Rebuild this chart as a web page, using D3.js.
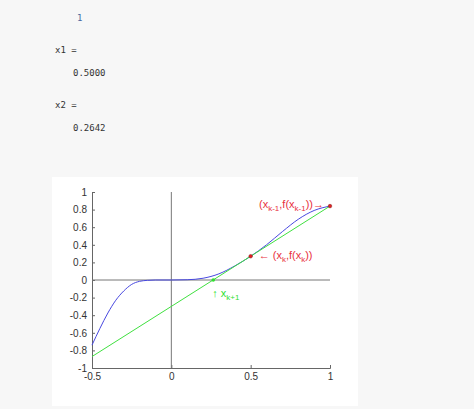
<!DOCTYPE html>
<html><head><meta charset="utf-8">
<script src="https://cdn.jsdelivr.net/npm/d3@7"></script>
<style>
body{margin:0;background:#f7f7f7;width:474px;height:409px;overflow:hidden;font-family:"DejaVu Sans Mono",monospace;}
.out{position:absolute;font-size:9px;color:#333;}
</style></head><body>
<div class="out" style="left:77px;top:13px;color:#4a6aa0">1</div>
<div class="out" style="left:55px;top:45px">x1 =</div>
<div class="out" style="left:73px;top:68px">0.5000</div>
<div class="out" style="left:55px;top:100px">x2 =</div>
<div class="out" style="left:73px;top:123px">0.2642</div>
<div id="fig" style="position:absolute;left:52px;top:177px;"></div>
<script>
var curveX = [-0.5,-0.45,-0.4,-0.35,-0.3,-0.25,-0.2,-0.15,-0.1,0,0.1,0.2,0.3,0.4,0.5,0.6,0.7,0.8,0.9,1];
var curveY = [-0.74,-0.55,-0.375,-0.23,-0.125,-0.05,-0.015,-0.004,0,0,0.003,0.02,0.07,0.16,0.27,0.40,0.55,0.69,0.79,0.84];
var secantX = [-0.5, 1];
var secantY = [-0.87, 0.84];
var pointsX = [1, 0.5];
var pointsY = [0.84, 0.27];
var rootX = 0.2642;
var xTicks = [-0.5, 0, 0.5, 1];
var yTicks = [-1,-0.8,-0.6,-0.4,-0.2,0,0.2,0.4,0.6,0.8,1];

var W = 306, H = 229;
var svg = d3.select("#fig").append("svg").attr("width", W).attr("height", H)
  .style("background", "#fff").style("font-family", "Liberation Sans, Arial").style("font-size", "8px");
var x = d3.scaleLinear().domain([-0.5, 1]).range([40, 278]);
var y = d3.scaleLinear().domain([-1, 1]).range([191, 15]);

svg.append("g").attr("transform", "translate(0,191)")
  .call(d3.axisBottom(x).tickValues(xTicks).tickSize(-3).tickPadding(5).tickFormat(d => String(d)))
  .call(g => g.select(".domain").attr("stroke", "#666"));
svg.append("g").attr("transform", "translate(40,0)")
  .call(d3.axisLeft(y).tickValues(yTicks).tickSize(-3).tickPadding(5).tickFormat(d => String(d)))
  .call(g => g.select(".domain").attr("stroke", "#666"));
svg.selectAll(".tick line").attr("stroke", "#666");
svg.selectAll(".tick text").attr("fill", "#333");

svg.append("line").attr("x1", x(-0.5)).attr("x2", x(1)).attr("y1", y(0)).attr("y2", y(0)).attr("stroke", "#777");
svg.append("line").attr("x1", x(0)).attr("x2", x(0)).attr("y1", y(-1)).attr("y2", y(1)).attr("stroke", "#777");

svg.append("path").datum(curveX.map((d, i) => [d, curveY[i]]))
  .attr("d", d3.line().x(d => x(d[0])).y(d => y(d[1])).curve(d3.curveMonotoneX))
  .attr("fill", "none").attr("stroke", "#4848e0").attr("stroke-width", 1);
svg.append("path").datum(secantX.map((d, i) => [d, secantY[i]]))
  .attr("d", d3.line().x(d => x(d[0])).y(d => y(d[1])))
  .attr("fill", "none").attr("stroke", "#40e040").attr("stroke-width", 1);

svg.selectAll(".pt").data(pointsX).enter().append("circle")
  .attr("cx", d => x(d)).attr("cy", (d, i) => y(pointsY[i])).attr("r", 1.8)
  .attr("fill", "#e02020").attr("stroke", "#802020").attr("stroke-width", 0.5);
svg.append("circle").attr("cx", x(rootX)).attr("cy", y(0)).attr("r", 1.8).attr("fill", "#30e030");

var red = "#e83040";
svg.append("text").attr("x", x(1) - 6).attr("y", y(0.84) + 2).attr("text-anchor", "end").attr("fill", red).style("font-size", "11px")
  .html('(x<tspan dy="3" font-size="8">k-1</tspan><tspan dy="-3">,f(x</tspan><tspan dy="3" font-size="8">k-1</tspan><tspan dy="-3">))→</tspan>');
svg.append("text").attr("x", x(0.5) + 8).attr("y", y(0.27) + 3).attr("fill", red).style("font-size", "11px")
  .html('← (x<tspan dy="3" font-size="8">k</tspan><tspan dy="-3">,f(x</tspan><tspan dy="3" font-size="8">k</tspan><tspan dy="-3">))</tspan>');
svg.append("text").attr("x", x(rootX) - 1).attr("y", y(0) + 17).attr("fill", "#30e030").style("font-size", "11px")
  .html('↑ x<tspan dy="3" font-size="8">k+1</tspan>');
</script>
</body></html>
